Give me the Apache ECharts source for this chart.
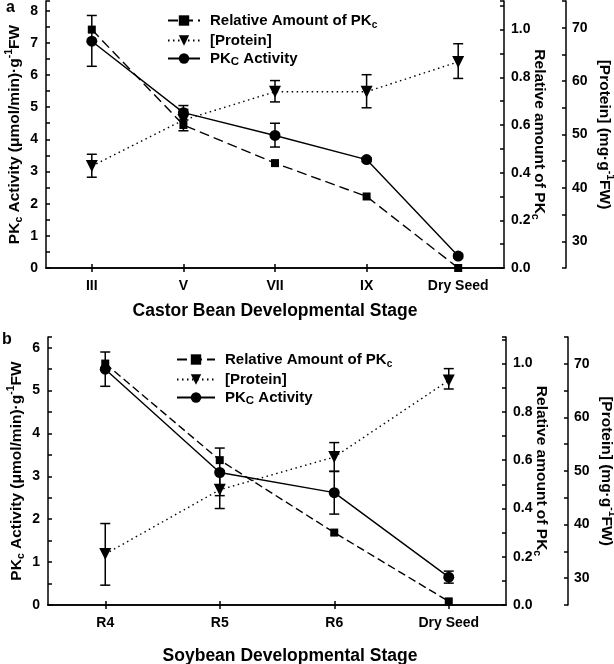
<!DOCTYPE html>
<html><head><meta charset="utf-8">
<script src="https://cdn.jsdelivr.net/npm/echarts@6/dist/echarts.min.js"></script>
<style>html,body{margin:0;padding:0;background:#fff}#c{width:614px;height:664px}</style>
</head><body><div id="c"></div>
<script>
// ---- Panel a: Castor bean ----
const stagesA = ['III', 'V', 'VII', 'IX', 'Dry Seed'];
const relA = [1.0, 0.6, 0.44, 0.30, 0.0];
const protA = [44.1, 52.7, 58.0, 58.0, 63.6];
const protLowA = [42.0, 50.7, 56.1, 55.0, 60.5];
const protHighA = [46.3, 54.7, 60.1, 61.2, 67.0];
const actA = [7.05, 4.83, 4.12, 3.37, 0.37];
const actLowA = [6.27, 4.6, 3.76, 3.31, 0.31];
const actHighA = [7.85, 5.05, 4.5, 3.43, 0.43];

// ---- Panel b: Soybean ----
const stagesB = ['R4', 'R5', 'R6', 'Dry Seed'];
const relB = [1.0, 0.6, 0.3, 0.015];
const protB = [34.5, 46.5, 52.6, 66.9];
const protLowB = [28.7, 43.0, 49.9, 65.3];
const protHighB = [40.2, 50.0, 55.3, 69.1];
const actB = [5.5, 3.09, 2.62, 0.65];
const actLowB = [5.1, 2.55, 2.12, 0.51];
const actHighB = [5.9, 3.66, 3.12, 0.79];

const seriesNames = ['Relative Amount of PKc', '[Protein]', 'PKc Activity'];

const FONT = '"Liberation Sans", Arial, Helvetica, sans-serif';
const black = '#000';

const chart = echarts.init(document.getElementById('c'), null, {renderer: 'canvas'});

function intFmt(v) { return Math.abs(v - Math.round(v)) < 1e-6 ? String(Math.round(v)) : ''; }
function relFmt(v) { const r = Math.round(v * 10); return (Math.abs(v * 10 - r) < 1e-6 && r % 2 === 0) ? (r / 10).toFixed(1) : ''; }
function protFmt(v) { const r = Math.round(v); return (Math.abs(v - r) < 1e-6 && r % 10 === 0) ? String(r) : ''; }

const axisLineStyle = {show: true, lineStyle: {color: black, width: 1.5}};
const tickStyle = {show: true, inside: true, length: 4, lineStyle: {color: black, width: 1.5}};
const labelStyle = {color: black, fontFamily: FONT, fontWeight: 'bold', fontSize: 14};
const titleRich = {
  a: {fontFamily: FONT, fontWeight: 'bold', fontSize: 15.5, color: black, lineHeight: 21},
  s: {fontFamily: FONT, fontWeight: 'bold', fontSize: 10.5, color: black, lineHeight: 21, verticalAlign: 'bottom'},
  p: {fontFamily: FONT, fontWeight: 'bold', fontSize: 10.5, color: black, lineHeight: 21, verticalAlign: 'top'}
};

function yLeft(grid, max, gap) {
  return {
    type: 'value', gridIndex: grid, position: 'left', min: 0, max: max, interval: 0.5,
    axisLine: axisLineStyle, axisTick: tickStyle, splitLine: {show: false},
    axisLabel: Object.assign({formatter: intFmt, margin: 8}, labelStyle),
    name: '{a|PK}{s|c}{a| Activity (μmol/min)·g}{p|-1}{a|FW}',
    nameLocation: 'middle', nameRotate: 90, nameGap: gap, nameMoveOverlap: false,
    nameTextStyle: {rich: titleRich}
  };
}
function yRel(grid, max) {
  return {
    type: 'value', gridIndex: grid, position: 'right', offset: 0, min: 0, max: max, interval: 0.1,
    axisLine: axisLineStyle, axisTick: tickStyle, splitLine: {show: false},
    axisLabel: Object.assign({formatter: relFmt, margin: 7}, labelStyle),
    name: '{a|Relative amount of PK}{s|c}',
    nameLocation: 'middle', nameRotate: -90, nameGap: 25, nameMoveOverlap: false,
    nameTextStyle: {rich: titleRich}
  };
}
function yProt(grid) {
  return {
    type: 'value', gridIndex: grid, position: 'right', offset: 62, min: 25, max: 75, interval: 5,
    axisLine: axisLineStyle, axisTick: tickStyle, splitLine: {show: false},
    axisLabel: Object.assign({formatter: protFmt, margin: 6}, labelStyle),
    name: '{a|[Protein] (mg·g}{p|-1}{a|FW)}',
    nameLocation: 'middle', nameRotate: -90, nameGap: 28, nameMoveOverlap: false,
    nameTextStyle: {rich: titleRich}
  };
}
function xBottom(grid, cats, title, gap, pad) {
  return {
    type: 'category', gridIndex: grid, position: 'bottom', data: cats, boundaryGap: true,
    axisLine: axisLineStyle, axisTick: Object.assign({alignWithLabel: true}, tickStyle),
    axisLabel: Object.assign({margin: 11, interval: 0}, labelStyle),
    splitLine: {show: false},
    name: title, nameLocation: 'middle', nameGap: gap, nameMoveOverlap: false,
    nameTextStyle: {color: black, fontFamily: FONT, fontWeight: 'bold', fontSize: 17.5, padding: pad}
  };
}
function xTop(grid, cats) {
  return {
    type: 'category', gridIndex: grid, position: 'top', data: cats, boundaryGap: true,
    axisLine: axisLineStyle, axisTick: Object.assign({alignWithLabel: true}, tickStyle),
    axisLabel: {show: false}, splitLine: {show: false}
  };
}

function errSeries(name, xi, yi, lows, highs) {
  return {
    type: 'custom', name: name + ' err', xAxisIndex: xi, yAxisIndex: yi, z: 3,
    data: lows.map((l, i) => [i, l, highs[i]]),
    encode: {x: 0, y: [1, 2]},
    renderItem: function (params, api) {
      const x = api.value(0);
      const lo = api.coord([x, api.value(1)]);
      const hi = api.coord([x, api.value(2)]);
      const w = 5;
      const st = {stroke: black, lineWidth: 1.5, fill: null};
      return {type: 'group', children: [
        {type: 'line', shape: {x1: lo[0], y1: lo[1], x2: hi[0], y2: hi[1]}, style: st},
        {type: 'line', shape: {x1: lo[0] - w, y1: lo[1], x2: lo[0] + w, y2: lo[1]}, style: st},
        {type: 'line', shape: {x1: hi[0] - w, y1: hi[1], x2: hi[0] + w, y2: hi[1]}, style: st}
      ]};
    }
  };
}

function lineSeries(name, xi, yi, data, sym, size, rot, ltype) {
  return {
    type: 'line', name: name, xAxisIndex: xi, yAxisIndex: yi, data: data,
    symbol: sym, symbolSize: size, symbolRotate: rot, showSymbol: true, z: 4,
    itemStyle: {color: black, borderWidth: 0},
    lineStyle: {color: black, width: 1.4, type: ltype},
    animation: false
  };
}

function legendFmt(name) {
  if (name === 'Relative Amount of PKc') return '{a|Relative Amount of PK}{s|c}';
  if (name === 'PKc Activity') return '{a|PK}{S|C}{a| Activity}';
  return '{a|' + name + '}';
}
const legendRich = {
  a: {fontFamily: FONT, fontWeight: 'bold', fontSize: 15, color: black, lineHeight: 19},
  s: {fontFamily: FONT, fontWeight: 'bold', fontSize: 10, color: black, lineHeight: 19, verticalAlign: 'bottom'},
  S: {fontFamily: FONT, fontWeight: 'bold', fontSize: 11.5, color: black, lineHeight: 19, verticalAlign: 'bottom'}
};
function legend(left, top, w, gap) {
  return {
    orient: 'vertical', left: left, top: top, itemWidth: w, itemHeight: 13, itemGap: gap,
    data: seriesNames, selectedMode: false, formatter: legendFmt,
    textStyle: {rich: legendRich, padding: [0, 0, 0, 5]}
  };
}

const option = {
  animation: false,
  backgroundColor: '#fff',
  grid: [
    {left: 46, top: 1, width: 458, height: 267, containLabel: false, outerBoundsMode: 'none'},
    {left: 48, top: 337, width: 458, height: 268, containLabel: false, outerBoundsMode: 'none'}
  ],
  xAxis: [
    xBottom(0, stagesA, 'Castor Bean Developmental Stage', 34, [0, 0, 0, 0]),
    xTop(0, stagesA),
    xBottom(1, stagesB, 'Soybean Developmental Stage', 42, [0, 0, 0, 26]),
    xTop(1, stagesB)
  ],
  yAxis: [
    yLeft(0, 8.3, 21), yRel(0, 1.12), yProt(0),
    yLeft(1, 6.25, 21), yRel(1, 1.11), yProt(1)
  ],
  legend: [legend(162, 8, 32, 3), legend(171, 347, 38, 3)],
  graphic: [
    {type: 'text', left: 6, top: 0, style: {text: 'a', font: 'bold 16px ' + FONT, fill: black}},
    {type: 'text', left: 2, top: 332, style: {text: 'b', font: 'bold 16px ' + FONT, fill: black}}
  ],
  series: [
    errSeries('protA', 0, 2, protLowA, protHighA),
    errSeries('actA', 0, 0, actLowA, actHighA),
    lineSeries(seriesNames[0], 0, 1, relA, 'rect', 8, 0, [10, 5]),
    lineSeries(seriesNames[1], 0, 2, protA, 'triangle', 12, 180, [1.5, 3.5]),
    lineSeries(seriesNames[2], 0, 0, actA, 'circle', 11, 0, 'solid'),
    errSeries('protB', 2, 5, protLowB, protHighB),
    errSeries('actB', 2, 3, actLowB, actHighB),
    lineSeries(seriesNames[0], 2, 4, relB, 'rect', 8, 0, [8, 4]),
    lineSeries(seriesNames[1], 2, 5, protB, 'triangle', 12, 180, [1.5, 3.5]),
    lineSeries(seriesNames[2], 2, 3, actB, 'circle', 11, 0, 'solid')
  ]
};
chart.setOption(option);
</script>
</body></html>
